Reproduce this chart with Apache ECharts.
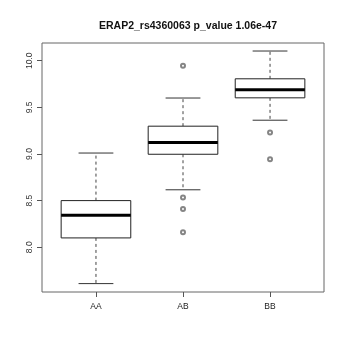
<!DOCTYPE html>
<html>
<head>
<meta charset="utf-8">
<script src="https://cdn.jsdelivr.net/npm/echarts@6/dist/echarts.min.js"></script>
<style>html,body{margin:0;padding:0;background:#fff;}#c{width:346px;height:346px;}</style>
</head>
<body>
<div id="c"></div>
<script>
var categories = ['AA', 'AB', 'BB'];
var whiskerLow = [7.61, 8.616, 9.362];
var q1 = [8.10, 8.997, 9.602];
var median = [8.344, 9.122, 9.688];
var q3 = [8.50, 9.298, 9.806];
var whiskerHigh = [9.01, 9.60, 10.104];
var outliers = [
  [2, 9.946], [2, 8.534], [2, 8.409], [2, 8.161],
  [3, 9.229], [3, 8.943]
];
var yTicks = [8.0, 8.5, 9.0, 9.5, 10.0];
var xTicks = [1, 2, 3];

var boxData = categories.map(function (c, i) {
  return [i + 1, whiskerLow[i], q1[i], median[i], q3[i], whiskerHigh[i]];
});

var chart = echarts.init(document.getElementById('c'), null, {renderer: 'canvas'});
var lineColor = '#222';
var labelFont = 'Liberation Sans, Arial, sans-serif';

function renderBox(params, api) {
  var x = api.value(0);
  var lo = api.value(1), a = api.value(2), m = api.value(3), b = api.value(4), hi = api.value(5);
  var hw = 0.4, cw = 0.2;
  var pTL = api.coord([x - hw, b]);
  var pBR = api.coord([x + hw, a]);
  var pc = function (v) { return api.coord([x, v]); };
  var dashed = {stroke: '#444', lineWidth: 1, lineDash: [3, 3]};
  var cLo = pc(lo), cA = pc(a), cB = pc(b), cHi = pc(hi), cM = pc(m);
  var capL = api.coord([x - cw, 0])[0], capR = api.coord([x + cw, 0])[0];
  return {
    type: 'group',
    children: [
      {type: 'line', shape: {x1: cB[0], y1: cB[1], x2: cHi[0], y2: cHi[1]}, style: dashed},
      {type: 'line', shape: {x1: cA[0], y1: cA[1], x2: cLo[0], y2: cLo[1]}, style: dashed},
      {type: 'line', shape: {x1: capL, y1: cHi[1], x2: capR, y2: cHi[1]}, style: {stroke: '#333', lineWidth: 1}},
      {type: 'line', shape: {x1: capL, y1: cLo[1], x2: capR, y2: cLo[1]}, style: {stroke: '#333', lineWidth: 1}},
      {type: 'rect', shape: {x: pTL[0], y: pTL[1], width: pBR[0] - pTL[0], height: pBR[1] - pTL[1]}, style: {stroke: lineColor, lineWidth: 1, fill: '#fff'}},
      {type: 'line', shape: {x1: pTL[0], y1: cM[1], x2: pBR[0], y2: cM[1]}, style: {stroke: '#000', lineWidth: 3}}
    ]
  };
}

chart.setOption({
  animation: false,
  backgroundColor: '#fff',
  title: {
    text: 'ERAP2_rs4360063 p_value 1.06e-47',
    left: 183,
    top: 16,
    textAlign: 'center',
    textStyle: {fontSize: 10.5, fontWeight: 'bold', color: '#111', fontFamily: labelFont}
  },
  grid: {left: 42, top: 43, right: 22, bottom: 54, show: true, borderColor: '#666', borderWidth: 1, backgroundColor: 'transparent'},
  xAxis: {
    type: 'value', min: 0.38, max: 3.62,
    splitLine: {show: false},
    axisLine: {show: false},
    axisTick: {show: true, length: 5, lineStyle: {color: '#555'}, customValues: xTicks},
    axisLabel: {
      customValues: xTicks, margin: 10, fontSize: 8.5, color: '#222', fontFamily: labelFont,
      formatter: function (v) { return categories[Math.round(v) - 1] || ''; }
    }
  },
  yAxis: {
    type: 'value', min: 7.52, max: 10.19,
    splitLine: {show: false},
    axisLine: {show: false},
    axisTick: {show: true, length: 5, lineStyle: {color: '#555'}, customValues: yTicks},
    axisLabel: {
      customValues: yTicks, rotate: 90, margin: 8, fontSize: 8.5, color: '#333', fontFamily: labelFont,
      formatter: function (v) { return v.toFixed(1); }
    }
  },
  series: [
    {type: 'custom', renderItem: renderBox, data: boxData, encode: {x: 0, y: [1, 5]}, clip: false},
    {type: 'scatter', data: outliers, symbol: 'emptyCircle', symbolSize: 4,
     itemStyle: {color: '#666', borderColor: '#666', borderWidth: 0.7}}
  ]
});
</script>
</body>
</html>
